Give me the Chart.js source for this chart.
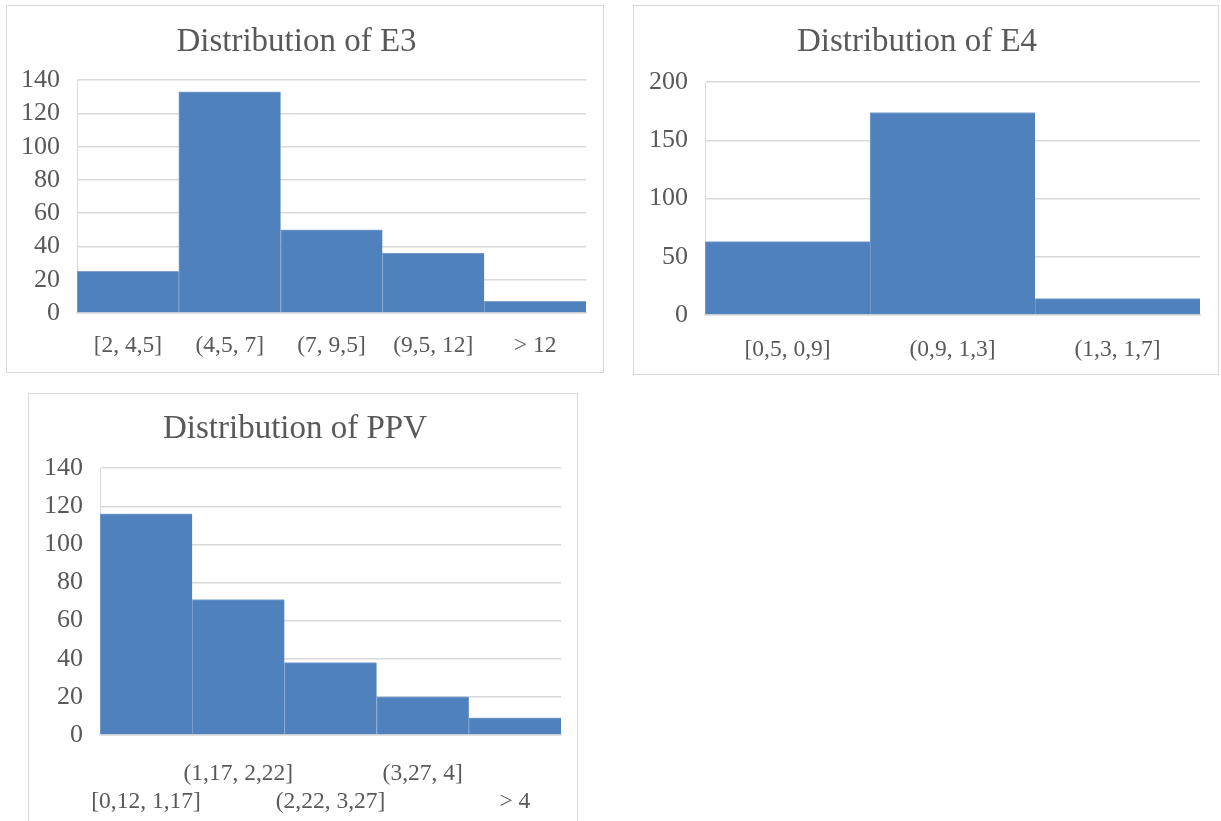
<!DOCTYPE html>
<html>
<head>
<meta charset="utf-8">
<script src="https://cdn.jsdelivr.net/npm/chart.js@4/dist/chart.umd.min.js"></script>
<style>
  body { margin: 0; background: #fff; overflow: hidden; }
  .box { position: absolute; border: 1px solid #d9d9d9; background: #fff; }
  .box canvas { display: block; }
</style>
</head>
<body>
<div class="box" style="left:6px; top:5px; width:596px; height:366px;"><canvas id="chartE3"></canvas></div>
<div class="box" style="left:633px; top:5px; width:584px; height:368px;"><canvas id="chartE4"></canvas></div>
<div class="box" style="left:28px; top:393px; width:548px; height:440px;"><canvas id="chartPPV"></canvas></div>
<script>
// histogram bins and counts
const e3Labels = ["[2, 4,5]", "(4,5, 7]", "(7, 9,5]", "(9,5, 12]", "> 12"];
const e3Counts = [25, 133, 50, 36, 7];

const e4Labels = ["[0,5, 0,9]", "(0,9, 1,3]", "(1,3, 1,7]"];
const e4Counts = [63, 174, 14];

const ppvLabels = ["[0,12, 1,17]", "(1,17, 2,22]", "(2,22, 3,27]", "(3,27, 4]", "> 4"];
const ppvCounts = [116, 71, 38, 20, 9];

const BAR_BLUE = "#4f81bd";
const TEXT_GREY = "#595959";
const GRID_GREY = "#d9d9d9";
const SERIF = "'Liberation Serif', 'Times New Roman', serif";

Chart.defaults.animation = false;

// build one excel-style histogram
function makeHistogram(canvasId, title, labels, counts, yMax, yStep, dims) {
    const ctx = document.getElementById(canvasId);
    ctx.width = dims.w;
    ctx.height = dims.h;
    return new Chart(ctx, {
        type: "bar",
        data: {
            labels: labels,
            datasets: [
                {
                    data: counts,
                    backgroundColor: BAR_BLUE,
                    borderColor: "#7fa2d0",
                    borderWidth: { left: 1, top: 1, right: 0, bottom: 0 },
                    borderSkipped: false,
                    categoryPercentage: 1.0,
                    barPercentage: 1.0,
                },
            ],
        },
        options: {
            responsive: false,
            maintainAspectRatio: false,
            layout: {
                padding: { left: 0, right: dims.padRight, top: 0, bottom: 0 },
            },
            plugins: {
                legend: { display: false },
                tooltip: { enabled: false },
                title: {
                    display: true,
                    text: title,
                    color: TEXT_GREY,
                    font: { family: SERIF, size: 33, weight: "normal", lineHeight: 1.2 },
                    padding: { top: dims.titleTop, bottom: dims.titleBottom },
                },
            },
            scales: {
                x: {
                    grid: { display: false },
                    border: { display: true, color: GRID_GREY, width: 1.5 },
                    ticks: {
                        color: TEXT_GREY,
                        autoSkip: false,
                        maxRotation: 0,
                        minRotation: 0,
                        padding: dims.xPad,
                        font: { family: SERIF, size: 23.5, lineHeight: 1.2 },
                    },
                    afterFit: (scale) => { scale.height = dims.xHeight; },
                },
                y: {
                    min: 0,
                    max: yMax,
                    grid: { color: GRID_GREY, lineWidth: 1.5, drawTicks: false },
                    border: { display: true, color: GRID_GREY, width: 1 },
                    ticks: {
                        stepSize: yStep,
                        autoSkip: false,
                        color: TEXT_GREY,
                        padding: 17,
                        font: { family: SERIF, size: 26 },
                    },
                    afterFit: (scale) => { scale.width = dims.yWidth; },
                },
            },
        },
    });
}

makeHistogram("chartE3", "Distribution of E3", e3Labels, e3Counts, 140, 20, {
    w: 596, h: 366, yWidth: 70, padRight: 17, titleTop: 17, titleBottom: 17.6, xHeight: 59, xPad: 11,
});

makeHistogram("chartE4", "Distribution of E4", e4Labels, e4Counts, 200, 50, {
    w: 584, h: 368, yWidth: 71, padRight: 18, titleTop: 17, titleBottom: 19.6, xHeight: 59, xPad: 13,
});

// PPV labels alternate between two rows like the original
const ppvStaggered = ppvLabels.map((l, i) => (i % 2 === 0 ? ["", l] : [l, ""]));
makeHistogram("chartPPV", "Distribution of PPV", ppvStaggered, ppvCounts, 140, 20, {
    w: 548, h: 440, yWidth: 71, padRight: 16, titleTop: 16, titleBottom: 18.6, xHeight: 99, xPad: 17,
});
</script>
</body>
</html>
